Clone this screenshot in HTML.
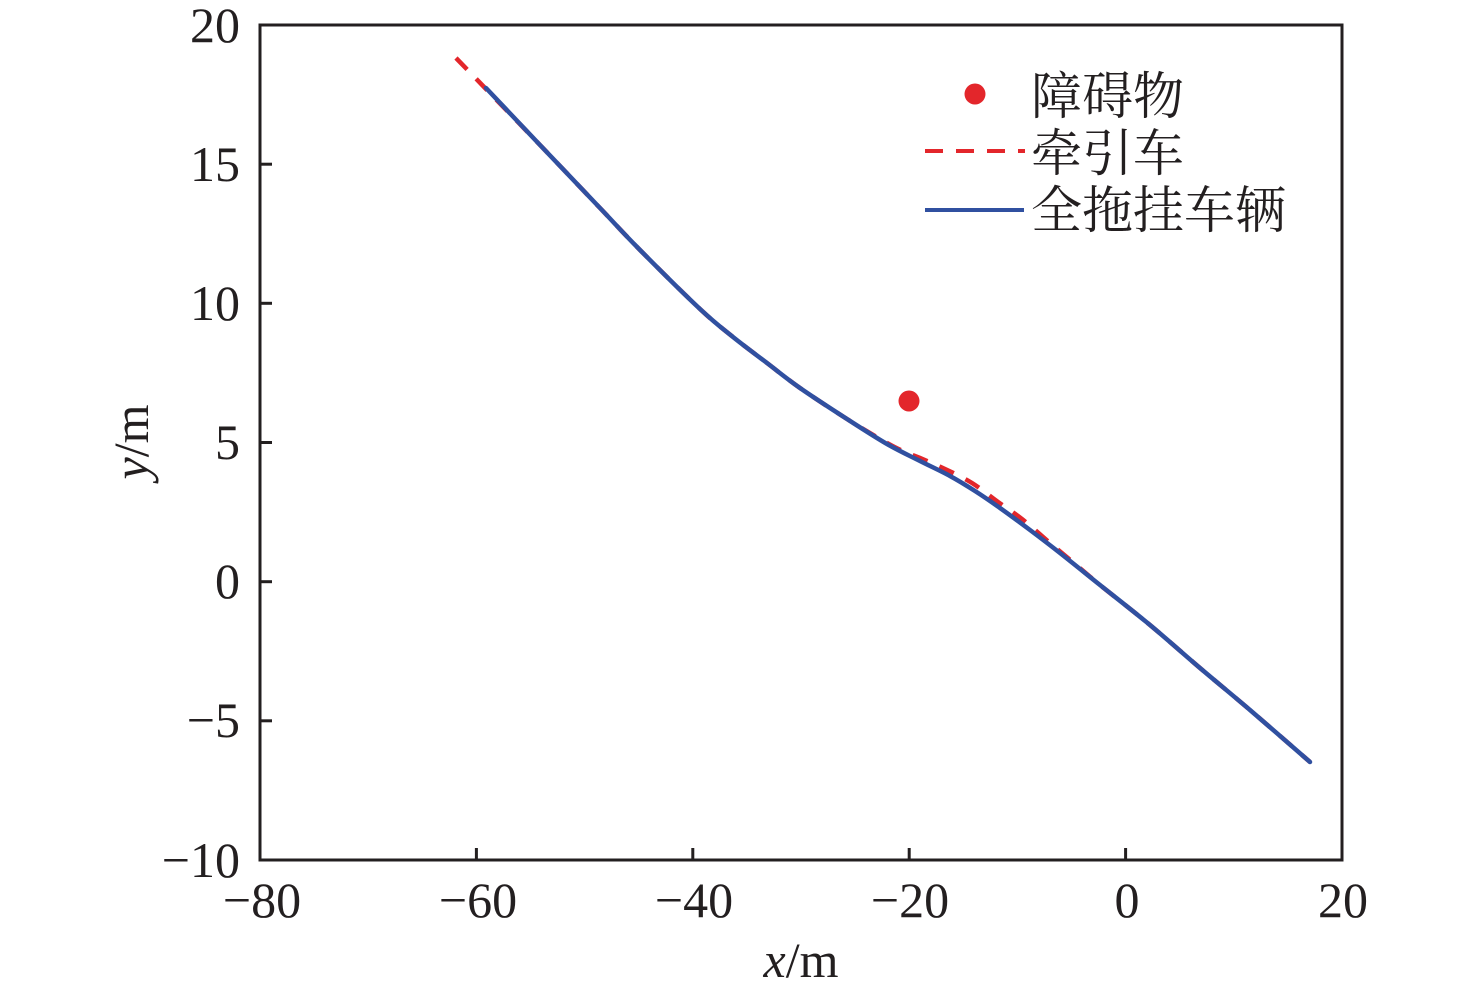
<!DOCTYPE html>
<html>
<head>
<meta charset="utf-8">
<style>
  html,body{margin:0;padding:0;background:#fff;}
  svg{display:block;}
  .num{font-family:"Liberation Serif","Noto Serif CJK SC",serif;font-size:50px;fill:#231f20;}
  .cjk{font-family:"Liberation Serif","Noto Serif CJK SC","Noto Sans CJK SC",serif;font-size:51px;fill:#231f20;}
</style>
</head>
<body>
<svg width="1476" height="995" viewBox="0 0 1476 995" xmlns="http://www.w3.org/2000/svg">
  <rect x="0" y="0" width="1476" height="995" fill="#fff"/>

  <!-- red dashed tractor path -->
  <path id="red" d="M456,58 L486,89 L540,145 L600,208 L640,250 L700,309 L733,337 L767,363 L800,388 L847,419 L887,443 L905,452 L920,458 L945,469 L972,483 L998,502 L1022,519 L1050,543 L1075,564 L1100,585 L1150,625 L1200,668 L1250,710 L1310,762"
        fill="none" stroke="#e3262b" stroke-width="4.5" stroke-dasharray="16 13"/>

  <!-- blue full trailer path -->
  <path id="blue" d="M486,88 L540,145 L600,208 L640,250 L700,309 L733,337 L767,363 L800,388 L847,419 L887,444 L920,461 L950,476 L975,491 L1000,508 L1030,530 L1060,553 L1100,585 L1150,625 L1200,668 L1250,710 L1310,762"
        fill="none" stroke="#3050a0" stroke-width="4.5" stroke-linejoin="round" stroke-linecap="round"/>

  <!-- obstacle -->
  <circle cx="909" cy="401" r="10.5" fill="#e3262b"/>

  <!-- axes box -->
  <rect x="260" y="25" width="1082" height="835" fill="none" stroke="#231f20" stroke-width="3"/>

  <!-- ticks -->
  <g stroke="#231f20" stroke-width="3">
    <line x1="260" y1="164.2" x2="272" y2="164.2"/>
    <line x1="260" y1="303.3" x2="272" y2="303.3"/>
    <line x1="260" y1="442.5" x2="272" y2="442.5"/>
    <line x1="260" y1="581.7" x2="272" y2="581.7"/>
    <line x1="260" y1="720.8" x2="272" y2="720.8"/>
    <line x1="476.4" y1="860" x2="476.4" y2="848"/>
    <line x1="692.8" y1="860" x2="692.8" y2="848"/>
    <line x1="909.2" y1="860" x2="909.2" y2="848"/>
    <line x1="1125.6" y1="860" x2="1125.6" y2="848"/>
  </g>

  <!-- y tick labels -->
  <g class="num" text-anchor="end">
    <text x="240" y="42">20</text>
    <text x="240" y="181">15</text>
    <text x="240" y="320">10</text>
    <text x="240" y="459">5</text>
    <text x="240" y="598">0</text>
    <text x="240" y="737">−5</text>
    <text x="240" y="877">−10</text>
  </g>

  <!-- x tick labels -->
  <g class="num" text-anchor="middle">
    <text x="262" y="917">−80</text>
    <text x="478" y="917">−60</text>
    <text x="694" y="917">−40</text>
    <text x="910" y="917">−20</text>
    <text x="1127" y="917">0</text>
    <text x="1343" y="917">20</text>
  </g>

  <!-- axis titles -->
  <text class="num" x="801" y="977" text-anchor="middle"><tspan font-style="italic">x</tspan>/m</text>
  <text class="num" transform="translate(148,442) rotate(-90)" text-anchor="middle"><tspan font-style="italic">y</tspan>/m</text>

  <!-- legend -->
  <circle cx="975" cy="94" r="10.5" fill="#e3262b"/>
  <text class="cjk" x="1031" y="114">障碍物</text>
  <line x1="925" y1="151" x2="1025" y2="151" stroke="#e3262b" stroke-width="4" stroke-dasharray="18 13"/>
  <text class="cjk" x="1031" y="171">牵引车</text>
  <line x1="925" y1="210" x2="1024" y2="210" stroke="#3050a0" stroke-width="4"/>
  <text class="cjk" x="1031" y="228">全拖挂车辆</text>
</svg>
<script>
(function(){
  function smooth(id){
    var el=document.getElementById(id);
    var d=el.getAttribute('d');
    var nums=d.match(/-?\d+(\.\d+)?/g).map(Number);
    var p=[];
    for(var i=0;i<nums.length;i+=2)p.push([nums[i],nums[i+1]]);
    var s='M'+p[0][0]+','+p[0][1];
    for(var i=0;i<p.length-1;i++){
      var p0=p[i-1]||p[i],p1=p[i],p2=p[i+1],p3=p[i+2]||p[i+1];
      var c1x=p1[0]+(p2[0]-p0[0])/6,c1y=p1[1]+(p2[1]-p0[1])/6;
      var c2x=p2[0]-(p3[0]-p1[0])/6,c2y=p2[1]-(p3[1]-p1[1])/6;
      s+=' C'+c1x.toFixed(2)+','+c1y.toFixed(2)+' '+c2x.toFixed(2)+','+c2y.toFixed(2)+' '+p2[0]+','+p2[1];
    }
    el.setAttribute('d',s);
  }
  try{smooth('red');smooth('blue');}catch(e){}
})();
</script>
</body>
</html>
